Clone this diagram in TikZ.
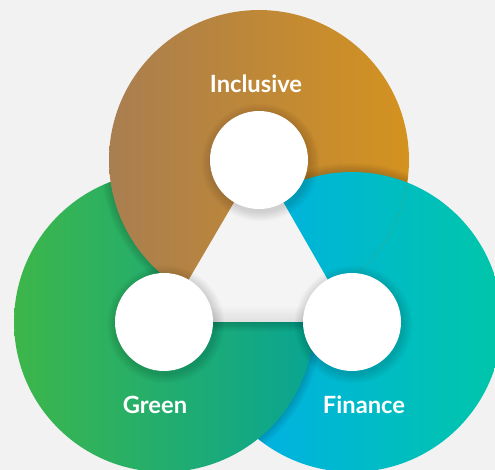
\documentclass[tikz,border=0pt]{standalone}
\usepackage{fontspec}
\setmainfont{Lato}
\begin{document}
\begin{tikzpicture}[x=0.02cm,y=-0.02cm,
  hub/.style={circle,fill=white,inner sep=0pt,minimum size=1.96cm},
  label/.style={text=white,font=\bfseries\fontsize{13.5}{15}\selectfont},
  ringshadow/.style={fill=black,opacity=0.022}]
\definecolor{bg}{HTML}{F2F2F2}
\definecolor{brownL}{HTML}{A97E50}
\definecolor{brownR}{HTML}{D4921F}
\definecolor{greenL}{HTML}{3DB64A}
\definecolor{greenR}{HTML}{09A592}
\definecolor{blueL}{HTML}{00ADEF}
\definecolor{blueR}{HTML}{00C6A8}
\definecolor{tri}{HTML}{F4F4F4}

\fill[bg] (0,0) rectangle (495,470);
\useasboundingbox (0,0) rectangle (495,470);
\clip (0,0) rectangle (495,470);

\coordinate (A) at (259,160);
\coordinate (G) at (164,322);
\coordinate (F) at (352,322);

% Finance disc (bottom layer)
\shade[left color=blueL,right color=blueR] (F) circle[radius=3cm];

% Green disc, with its edge shadow falling on the blue one
\begin{scope}
  \clip (F) circle[radius=3cm];
  \foreach \i in {1,...,7}
    \fill[ringshadow] (G) circle[radius=3cm+\i*0.025cm];
\end{scope}
\shade[left color=greenL,right color=greenR] (G) circle[radius=3cm];

% Inclusive disc, with its edge shadow falling on the green one
\begin{scope}
  \clip (G) circle[radius=3cm];
  \foreach \i in {1,...,7}
    \fill[ringshadow] (A) circle[radius=3cm+\i*0.025cm];
\end{scope}
\shade[left color=brownL,right color=brownR] (A) circle[radius=3cm];

% Finance disc again where it lies over the Inclusive disc
\begin{scope}
  \clip (A) circle[radius=3cm];
  \foreach \i in {1,...,7}
    \fill[ringshadow] (F) circle[radius=3cm+\i*0.025cm];
  \shade[left color=blueL,right color=blueR] (F) circle[radius=3cm];
\end{scope}

% shadow under the triangle's lower edge
\begin{scope}
  \clip (G) circle[radius=3cm];
  \foreach \i in {1,...,8}
    \fill[ringshadow] (164,322) rectangle (352,322+\i*1.2);
\end{scope}

% central triangle
\fill[tri] (A) -- (G) -- (F) -- cycle;
\begin{scope}
  \clip (A) -- (G) -- (F) -- cycle;
  \foreach \i in {1,...,6}
    \fill[black,opacity=0.012] (164,322-\i*2.5) rectangle (352,322);
\end{scope}

% soft shadows of the hubs
\foreach \c in {A,G,F}{
  \foreach \i in {1,...,9}
    \fill[black,opacity=0.016] ([shift={(1.5,2.5)}]\c) circle[radius=0.98cm+\i*0.022cm];
}

% hubs
\node[hub] (inc) at (A) {};
\node[hub] (grn) at (G) {};
\node[hub] (fin) at (F) {};

% labels
\node[label] (incl) at (256,84) {Inclusive};
\node[label] (grnl) at (155,405) {Green};
\node[label] (finl) at (364,405) {Finance};
\end{tikzpicture}
\end{document}
